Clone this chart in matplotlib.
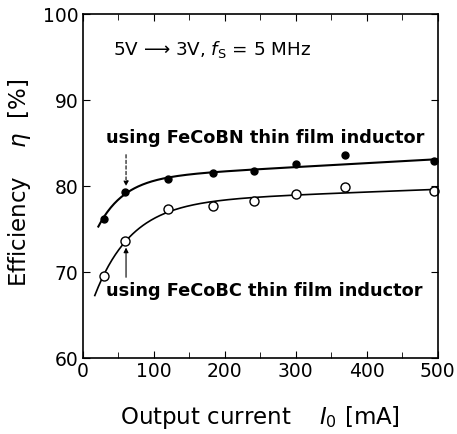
import numpy as np
import matplotlib
matplotlib.use("Agg")
import matplotlib.pyplot as plt

plt.rcParams['font.family'] = ['DejaVu Sans']
plt.rcParams['mathtext.fontset'] = 'dejavusans'

current_mA = [30, 60, 120, 183, 241, 301, 369, 495]
eff_fecobn = [76.2, 79.3, 80.9, 81.5, 81.8, 82.6, 83.6, 82.9]
eff_fecobc = [69.6, 73.6, 77.4, 77.7, 78.3, 79.1, 79.95, 79.4]

# Trend-line readings (the drawn smooth curves)
trend_bn_x = [22, 60, 120, 180, 240, 300, 400, 500]
trend_bn_y = [75.3, 79.2, 80.9, 81.5, 81.95, 82.45, 82.8, 83.0]
trend_bc_x = [17, 30, 60, 120, 180, 240, 300, 400, 500]
trend_bc_y = [67.4, 69.6, 73.6, 77.2, 78.0, 78.6, 79.1, 79.4, 79.6]

x_ticks = [0, 100, 200, 300, 400, 500]
y_ticks = [60, 70, 80, 90, 100]


def fit_curve(x, y, xs):
    x = np.asarray(x, float)
    y = np.asarray(y, float)
    best = None
    for c in np.linspace(10, 200, 381):
        A = np.column_stack([np.ones_like(x), x, -np.exp(-x / c)])
        coef, *_ = np.linalg.lstsq(A, y, rcond=None)
        res = np.sum((A @ coef - y) ** 2)
        if best is None or res < best[0]:
            best = (res, c, coef)
    _, c, coef = best
    return coef[0] + coef[1] * xs - coef[2] * np.exp(-xs / c)


fig = plt.figure(figsize=(4.57, 4.34), dpi=100)
ax = fig.add_axes([0.181, 0.1744, 0.777, 0.7926])

xs1 = np.linspace(trend_bn_x[0], trend_bn_x[-1], 300)
xs2 = np.linspace(trend_bc_x[0], trend_bc_x[-1], 300)
ax.plot(xs1, fit_curve(trend_bn_x, trend_bn_y, xs1), color='black', lw=1.5)
ax.plot(xs2, fit_curve(trend_bc_x, trend_bc_y, xs2), color='black', lw=1.2)
ax.plot(current_mA, eff_fecobn, 'o', color='black', ms=5, clip_on=False)
ax.plot(current_mA, eff_fecobc, 'o', mfc='white', mec='black', mew=1.0, ms=6.5, clip_on=False)

ax.set_xlim(0, 500)
ax.set_ylim(60, 100)
ax.set_xticks(x_ticks)
ax.set_xticks(np.arange(50, 500, 100), minor=True)
ax.set_yticks(y_ticks)
ax.tick_params(which='both', direction='in', top=True, right=True, labelsize=13.5, pad=3)
ax.tick_params(which='major', length=5)
ax.tick_params(which='minor', length=4)
for s in ax.spines.values():
    s.set_linewidth(1.2)

ax.set_xlabel('Output current    $I_0$ [mA]', fontsize=16.5, labelpad=16)
ax.set_ylabel('Efficiency    $\\eta$  [%]', fontsize=16.5)
ax.yaxis.set_label_coords(-0.14, 0.51)

ax.text(43, 95.9, '5V \u27f6 3V, $f_\\mathrm{S}$ = 5 MHz', fontsize=13.2, va='center', ha='left')
ax.text(33, 85.6, 'using FeCoBN thin film inductor', fontsize=12.8, fontweight='bold', va='center', ha='left')
ax.text(33, 67.8, 'using FeCoBC thin film inductor', fontsize=12.8, fontweight='bold', va='center', ha='left')

ax.annotate('', xy=(61, 79.7), xytext=(61, 84.0),
            arrowprops=dict(arrowstyle='-|>', lw=0.8, ls=(0, (3, 2)), color='black', mutation_scale=7))
ax.annotate('', xy=(61, 73.2), xytext=(61, 69.1),
            arrowprops=dict(arrowstyle='-|>', lw=0.8, color='black', mutation_scale=7))

fig.savefig('out.png', dpi=100)
